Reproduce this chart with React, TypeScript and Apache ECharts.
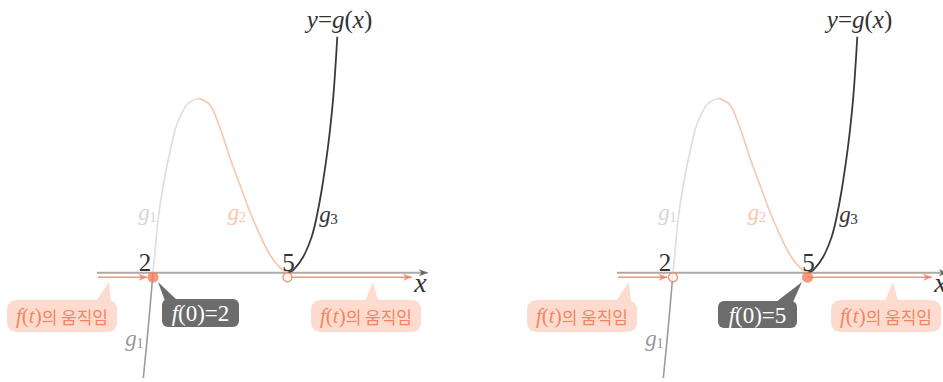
import React, { useEffect, useRef } from "react";
import * as echarts from "echarts";

// ---- data (math units) ----
const ROOTS = [2, 5];
const START_VALUES = [2, 5]; // f(0) in left / right panel
const AXIS_RANGE = [0.75, 8.13];
const TRACK_Y = -0.1;
const MOTION_LEFT = [0.77, 1.87];
const MOTION_RIGHT = [5.0, 7.77];

const G1_LOWER: [number, number][] = [
  [1.784, -2.349], [1.895, -1.205], [2.0, 0],
];
const G1_UPPER: [number, number][] = [
  [2.0, 0], [2.045, 0.468], [2.118, 1.22], [2.23, 1.956], [2.379, 2.699],
  [2.529, 3.295], [2.752, 3.741], [3.01, 3.89],
];
const G2: [number, number][] = [
  [3.01, 3.89], [3.271, 3.741], [3.495, 3.228], [3.718, 2.559], [3.941, 1.956],
  [4.164, 1.354], [4.387, 0.841], [4.61, 0.395], [4.833, 0.112], [5.0, 0],
];
const G3: [number, number][] = [
  [5.0, 0], [5.129, 0.06], [5.352, 0.357], [5.54, 0.803], [5.651, 1.249],
  [5.763, 1.845], [5.874, 2.588], [5.948, 3.181], [6.022, 3.926],
  [6.075, 4.671], [6.111, 5.264],
];

// ---- layout / style ----
const S = 44.83;
const PANEL_DX = 520;
const AXIS_PX_Y = 272.7;
const X_MAX = 8;
const Y_MIN = -2.4;
const Y_MAX = 6;
const SERIF = "Liberation Serif";
const KR = "Noto Sans CJK KR";
const ORANGE = "#f47e5b";
const ORANGE_TEXT = "#f4845f";
const ORANGE_LINE = "#f6977a";
const PEACH = "#fddccf";
const DARK_BOX = "#6c6c6c";
const ARROW_PATH = "path://M0,0L10,4L0,8L2.6,4Z";

function panelSeries(i: number) {
  const ax = { xAxisIndex: i, yAxisIndex: i };
  const curve = (data: [number, number][], color: string, width: number, z: number) => ({
    type: "line", ...ax, data, smooth: 0.35, symbol: "none", clip: false, silent: true, z,
    lineStyle: { color, width },
  });
  const filled = START_VALUES[i];
  const open = ROOTS.find((r) => r !== filled) as number;
  return [
    {
      type: "line", ...ax, symbol: "none", silent: true, z: 1, clip: false,
      data: [[AXIS_RANGE[0], 0], [AXIS_RANGE[1], 0]],
      lineStyle: { color: "#ababab", width: 2 },
    },
    {
      type: "scatter", ...ax, silent: true, z: 2, clip: false,
      data: [[AXIS_RANGE[1], 0]], symbol: ARROW_PATH, symbolSize: [10, 7], symbolOffset: [-4, 0],
      itemStyle: { color: "#505050" },
    },
    {
      type: "line", ...ax, symbol: "none", silent: true, z: 3, clip: false,
      data: [[MOTION_LEFT[0], TRACK_Y], [MOTION_LEFT[1], TRACK_Y]],
      lineStyle: { color: ORANGE_LINE, width: 1.5 },
    },
    {
      type: "line", ...ax, symbol: "none", silent: true, z: 3, clip: false,
      data: [[MOTION_RIGHT[0], TRACK_Y], [MOTION_RIGHT[1], TRACK_Y]],
      lineStyle: { color: ORANGE_LINE, width: 1.5 },
    },
    {
      type: "scatter", ...ax, silent: true, z: 4, clip: false,
      data: [[MOTION_LEFT[1], TRACK_Y], [MOTION_RIGHT[1], TRACK_Y]],
      symbol: ARROW_PATH, symbolSize: [9, 7], symbolOffset: [-4, 0],
      itemStyle: { color: ORANGE },
    },
    curve(G1_LOWER, "#9c9c9c", 1.6, 5),
    curve(G1_UPPER, "#dedede", 1.6, 5),
    curve(G2, "#fbc4ab", 1.6, 5),
    curve(G3, "#3a3a3a", 1.8, 6),
    {
      type: "scatter", ...ax, silent: true, z: 10, clip: false,
      data: [[filled, TRACK_Y]], symbol: "circle", symbolSize: 11,
      itemStyle: { color: ORANGE },
    },
    {
      type: "scatter", ...ax, silent: true, z: 10, clip: false,
      data: [[open, TRACK_Y]], symbol: "circle", symbolSize: 9,
      itemStyle: { color: "#ffffff", borderColor: ORANGE, borderWidth: 1.5 },
    },
  ];
}

function txt(
  x: number, y: number, text: string, size: number, fill: string,
  opts: { italic?: boolean; family?: string; rich?: any } = {}
) {
  return {
    type: "text", x, y, silent: true, z: 20,
    style: {
      text,
      fontFamily: opts.family || SERIF,
      fontSize: size,
      fontStyle: opts.italic ? "italic" : "normal",
      fill,
      textAlign: "center",
      textVerticalAlign: "middle",
      rich: opts.rich,
    },
  };
}

function gLabel(x: number, y: number, sub: string, fill: string) {
  return [
    txt(x - 3, y, "g", 23, fill, { italic: true }),
    txt(x + 6, y + 5, sub, 15, fill),
  ];
}

const it = (size: number, fill: string) => ({ fontFamily: SERIF, fontStyle: "italic", fontSize: size, fill });
const up = (size: number, fill: string) => ({ fontFamily: SERIF, fontStyle: "normal", fontSize: size, fill });

function motionCallout(cx: number, tipX: number, baseL: number, baseR: number) {
  return [
    {
      type: "rect", silent: true, z: 15,
      shape: { x: cx - 55, y: 300, width: 110, height: 32, r: 9 },
      style: { fill: PEACH },
    },
    {
      type: "polygon", silent: true, z: 15,
      shape: { points: [[baseL, 301], [baseR, 301], [tipX, 282]] },
      style: { fill: PEACH },
    },
    txt(cx, 316, "{i|f}{n|(}{i|t}{n|)}{k|의 움직임}", 17, ORANGE_TEXT, {
      family: KR,
      rich: {
        i: it(21, ORANGE_TEXT),
        n: up(21, ORANGE_TEXT),
        k: { fontFamily: KR, fontSize: 17, fill: ORANGE_TEXT },
      },
    }),
  ];
}

function panelGraphics(i: number) {
  const dx = i * PANEL_DX;
  const els: any[] = [];
  els.push(...motionCallout(62 + dx, 109 + dx, 96 + dx, 111 + dx));
  els.push(...motionCallout(366 + dx, 373 + dx, 365 + dx, 378 + dx));
  const value = START_VALUES[i];
  const boxRich = { i: it(23, "#fff"), n: up(23, "#fff") };
  if (i === 0) {
    els.push({ type: "rect", silent: true, z: 15, shape: { x: 162, y: 299, width: 77, height: 28, r: 6 }, style: { fill: DARK_BOX } });
    els.push({ type: "polygon", silent: true, z: 15, shape: { points: [[158, 282], [165, 301], [178, 301]] }, style: { fill: DARK_BOX } });
    els.push(txt(200.5, 313, `{i|f}{n|(0)=${value}}`, 23, "#fff", { rich: boxRich }));
  } else {
    els.push({ type: "rect", silent: true, z: 15, shape: { x: 718, y: 301, width: 79, height: 27, r: 6 }, style: { fill: DARK_BOX } });
    els.push({ type: "polygon", silent: true, z: 15, shape: { points: [[802, 282], [776, 302], [793, 302]] }, style: { fill: DARK_BOX } });
    els.push(txt(757.5, 315, `{i|f}{n|(0)=${value}}`, 23, "#fff", { rich: boxRich }));
  }
  els.push(txt(145 + dx, 262, String(ROOTS[0]), 25, "#333"));
  els.push(txt(288.5 + dx, 262, String(ROOTS[1]), 25, "#333"));
  els.push(txt(420.5 + dx, 282, "x", 28, "#333", { italic: true }));
  els.push(txt(339.5 + dx, 19, "{i|y}{n|=}{i|g}{n|(}{i|x}{n|)}", 25, "#333", {
    rich: { i: it(25, "#333"), n: up(25, "#333") },
  }));
  els.push(...gLabel(147 + dx, 212, "1", "#d6d6d6"));
  els.push(...gLabel(236.5 + dx, 212, "2", "#fbc4ab"));
  els.push(...gLabel(328 + dx, 214, "3", "#333"));
  els.push(...gLabel(134 + dx, 338, "1", "#999"));
  return els;
}

export default function App() {
  const ref = useRef<HTMLDivElement>(null);
  useEffect(() => {
    if (!ref.current) return;
    const chart = echarts.init(ref.current, undefined, { renderer: "svg" });
    const x0 = 153 - 2 * S;
    const top = AXIS_PX_Y - Y_MAX * S;
    const grids = [0, 1].map((i) => ({
      left: x0 + i * PANEL_DX, top, width: X_MAX * S, height: (Y_MAX - Y_MIN) * S,
    }));
    chart.setOption({
      animation: false,
      backgroundColor: "#ffffff",
      grid: grids,
      xAxis: [0, 1].map((i) => ({ gridIndex: i, type: "value", min: 0, max: X_MAX, show: false })),
      yAxis: [0, 1].map((i) => ({ gridIndex: i, type: "value", min: Y_MIN, max: Y_MAX, show: false })),
      series: [...panelSeries(0), ...panelSeries(1)],
      graphic: [...panelGraphics(0), ...panelGraphics(1)],
    });
    return () => chart.dispose();
  }, []);
  return (
    <div
      ref={ref}
      style={{ position: "fixed", left: 0, top: 0, width: 943, height: 382 }}
    />
  );
}
